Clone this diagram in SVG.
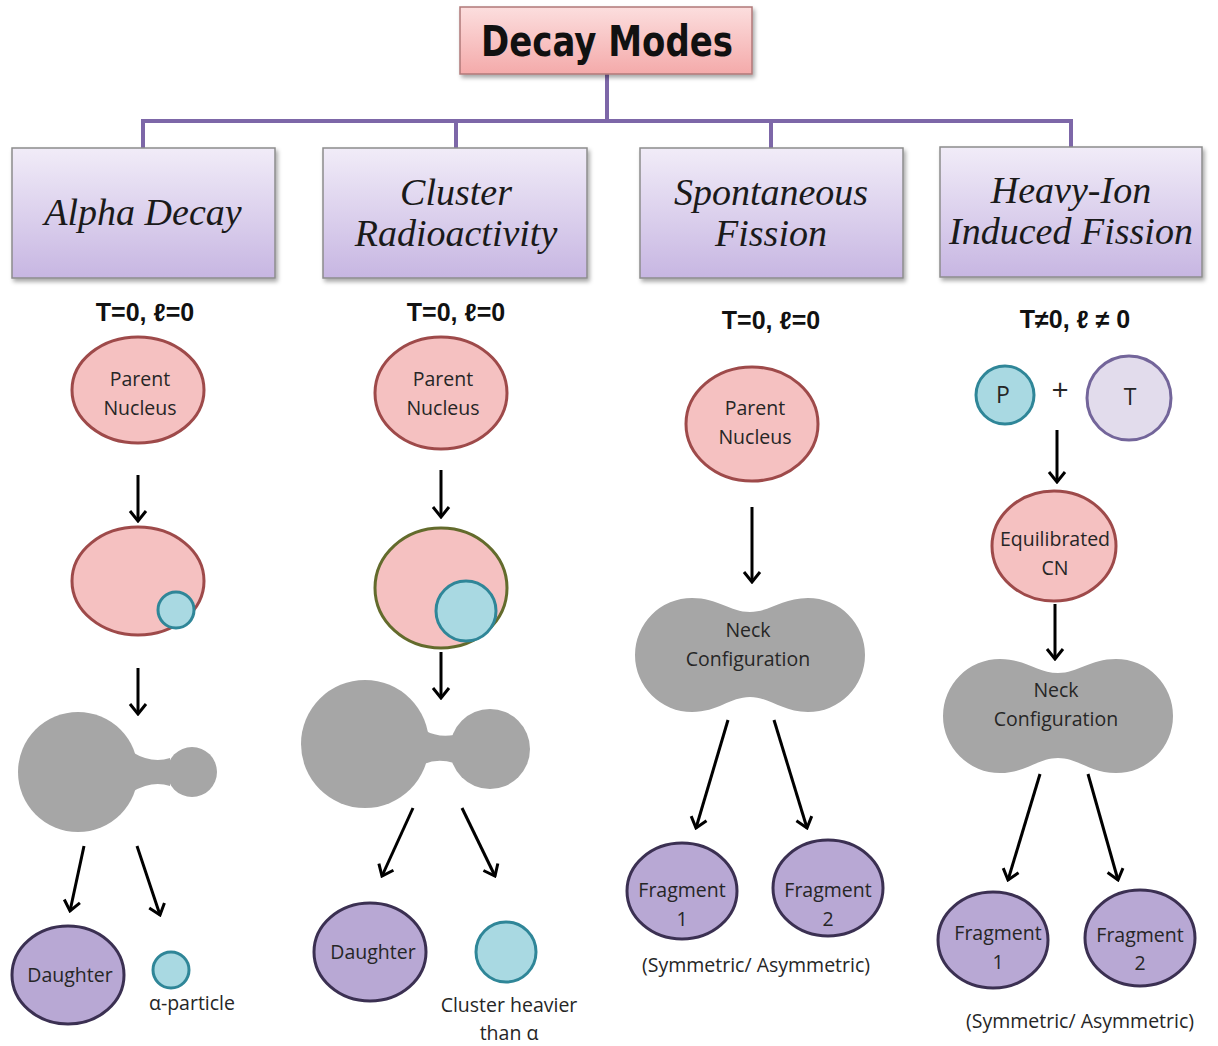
<svg xmlns="http://www.w3.org/2000/svg" width="1218" height="1046" viewBox="0 0 1218 1046">
<style>
.hdr{fill:url(#hg);stroke:#8c8c8c;stroke-width:1.5;filter:url(#sh)}
.ht{font-family:"Liberation Serif",serif;font-style:italic;font-size:38px;fill:#1a1a1a;text-anchor:middle}
.cond{font-family:"Liberation Sans",Arial,sans-serif;font-weight:bold;font-size:25px;fill:#111;text-anchor:middle}
.nt{font-family:"Open Sans","Liberation Sans",sans-serif;font-size:19.5px;fill:#262626;text-anchor:middle}
.big{font-size:23px}
.plus{font-size:30px}
.pink{fill:#f5c1c1;stroke:#9e4a4a;stroke-width:3}
.blue{fill:#a9d9e2;stroke:#2f8698;stroke-width:3}
.purp{fill:#b8a8d4;stroke:#3b3052;stroke-width:3}
.gray{fill:#a6a6a6}
.arr{stroke:#000;stroke-width:3;fill:none;marker-end:url(#ah)}
.tree{stroke:#7d67a8;stroke-width:4;fill:none}
</style>
<defs>
<linearGradient id="hg" x1="0" y1="0" x2="0" y2="1">
<stop offset="0" stop-color="#f1ecf8"/>
<stop offset="1" stop-color="#c7b6e2"/>
</linearGradient>
<linearGradient id="tg" x1="0" y1="0" x2="0" y2="1">
<stop offset="0" stop-color="#fcdede"/>
<stop offset="1" stop-color="#f4aaaa"/>
</linearGradient>
<filter id="sh" x="-10%" y="-10%" width="125%" height="130%">
<feDropShadow dx="2" dy="3" stdDeviation="2" flood-color="#000" flood-opacity="0.35"/>
</filter>
<marker id="ah" viewBox="-12 -10 14 20" refX="0" refY="0" markerWidth="14" markerHeight="20" markerUnits="userSpaceOnUse" orient="auto">
<path d="M-10,-8 L0,0 L-10,8" fill="none" stroke="#000" stroke-width="3"/>
</marker>
</defs>
<rect width="1218" height="1046" fill="#fff"/>

<g id="connectors">
<path class="tree" d="M607,74 V121 M143,121 H1071 M143,119 V149 M456,119 V149 M771,119 V149 M1071,119 V147"/>
<path class="arr" d="M138,475 V521"/>
<path class="arr" d="M138,668 V714"/>
<path class="arr" d="M84,846 L70,911"/>
<path class="arr" d="M137,846 L160,915"/>
<path class="arr" d="M441,470 V517"/>
<path class="arr" d="M441,652 V698"/>
<path class="arr" d="M413,808 L382,876"/>
<path class="arr" d="M462,808 L495,876"/>
<path class="arr" d="M752,507 V582"/>
<path class="arr" d="M728,720 L696,828"/>
<path class="arr" d="M774,720 L807,828"/>
<path class="arr" d="M1057,430 V482"/>
<path class="arr" d="M1055,604 V659"/>
<path class="arr" d="M1040,774 L1008,880"/>
<path class="arr" d="M1088,774 L1118,880"/>
</g>

<g id="title">
<rect x="460" y="7" width="292" height="67" fill="url(#tg)" stroke="#b07878" stroke-width="1.5" filter="url(#sh)"/>
<text x="607" y="56" font-family="'DejaVu Sans','Liberation Sans',sans-serif" font-weight="bold" font-size="42" fill="#111" text-anchor="middle" textLength="252" lengthAdjust="spacingAndGlyphs">Decay  Modes</text>
</g>

<g id="h-alpha">
<rect class="hdr" x="12" y="148" width="263" height="130"/>
<text class="ht" x="143" y="225">Alpha Decay</text>
</g>
<g id="h-cluster">
<rect class="hdr" x="323" y="148" width="264" height="130"/>
<text class="ht" x="456" y="205">Cluster</text>
<text class="ht" x="456" y="246">Radioactivity</text>
</g>
<g id="h-sf">
<rect class="hdr" x="640" y="148" width="263" height="130"/>
<text class="ht" x="771" y="205">Spontaneous</text>
<text class="ht" x="771" y="246">Fission</text>
</g>
<g id="h-hi">
<rect class="hdr" x="940" y="147" width="262" height="130"/>
<text class="ht" x="1071" y="203">Heavy-Ion</text>
<text class="ht" x="1071" y="244">Induced Fission</text>
</g>

<g id="cond-alpha"><text class="cond" x="145" y="321">T=0, ℓ=0</text></g>
<g id="cond-cluster"><text class="cond" x="456" y="321">T=0, ℓ=0</text></g>
<g id="cond-sf"><text class="cond" x="771" y="329">T=0, ℓ=0</text></g>
<g id="cond-hi"><text class="cond" x="1075" y="328">T≠0, ℓ ≠ 0</text></g>

<!-- Alpha column -->
<g id="a-parent">
<ellipse class="pink" cx="138" cy="390" rx="66" ry="53"/>
<text class="nt" x="140" y="386">Parent</text>
<text class="nt" x="140" y="415">Nucleus</text>
</g>
<g id="a-preformed">
<ellipse class="pink" cx="138" cy="581" rx="66" ry="54"/>
<circle class="blue" cx="176" cy="610" r="18"/>
</g>
<g id="a-neck">
<circle class="gray" cx="78" cy="772" r="60"/>
<circle class="gray" cx="192" cy="772" r="25"/>
<path class="gray" d="M132,752 Q152,764 170,758 L170,786 Q152,780 132,792 Z"/>
</g>
<g id="a-daughter">
<ellipse class="purp" cx="68" cy="975" rx="56" ry="49"/>
<text class="nt" x="70" y="982">Daughter</text>
</g>
<g id="a-alpha">
<circle class="blue" cx="171" cy="970" r="18"/>
<text class="nt" x="192" y="1010">α-particle</text>
</g>

<!-- Cluster column -->
<g id="c-parent">
<ellipse class="pink" cx="441" cy="393" rx="66" ry="56"/>
<text class="nt" x="443" y="386">Parent</text>
<text class="nt" x="443" y="415">Nucleus</text>
</g>
<g id="c-preformed">
<ellipse fill="#f5c1c1" stroke="#636b2c" stroke-width="3" cx="441" cy="588" rx="66" ry="60"/>
<circle class="blue" cx="466" cy="611" r="30"/>
</g>
<g id="c-neck">
<circle class="gray" cx="365" cy="744" r="64"/>
<circle class="gray" cx="490" cy="749" r="40"/>
<path class="gray" d="M424,730 Q438,738 454,735 L454,763 Q438,758 424,764 Z"/>
</g>
<g id="c-daughter">
<ellipse class="purp" cx="370" cy="952" rx="56" ry="49"/>
<text class="nt" x="373" y="959">Daughter</text>
</g>
<g id="c-cluster">
<circle class="blue" cx="506" cy="952" r="30"/>
<text class="nt" x="509" y="1012">Cluster heavier</text>
<text class="nt" x="509" y="1040">than α</text>
</g>

<!-- Spontaneous fission column -->
<g id="s-parent">
<ellipse class="pink" cx="752" cy="424" rx="66" ry="57"/>
<text class="nt" x="755" y="415">Parent</text>
<text class="nt" x="755" y="444">Nucleus</text>
</g>
<g id="s-neck">
<path class="gray" d="M692,598 C718,598 730,612 750,612 C770,612 782,598 808,598 A57,57 0 0 1 808,712 C782,712 770,697 750,697 C730,697 718,712 692,712 A57,57 0 0 1 692,598 Z"/>
<text class="nt" x="748" y="637">Neck</text>
<text class="nt" x="748" y="666">Configuration</text>
</g>
<g id="s-frag1">
<ellipse class="purp" cx="682" cy="891" rx="55" ry="48"/>
<text class="nt" x="682" y="897">Fragment</text>
<text class="nt" x="682" y="926">1</text>
</g>
<g id="s-frag2">
<ellipse class="purp" cx="828" cy="888" rx="55" ry="48"/>
<text class="nt" x="828" y="897">Fragment</text>
<text class="nt" x="828" y="926">2</text>
</g>
<g id="s-note"><text class="nt" x="756" y="972">(Symmetric/ Asymmetric)</text></g>

<!-- Heavy-ion column -->
<g id="h-p">
<circle class="blue" cx="1005" cy="395" r="29"/>
<text class="nt big" x="1003" y="403">P</text>
</g>
<g id="h-plus"><text class="nt plus" x="1060" y="400">+</text></g>
<g id="h-t">
<circle fill="#e2dcec" stroke="#73659a" stroke-width="3" cx="1129" cy="398" r="42"/>
<text class="nt big" x="1130" y="405">T</text>
</g>
<g id="h-cn">
<ellipse class="pink" cx="1054" cy="546" rx="62" ry="55"/>
<text class="nt" x="1055" y="546">Equilibrated</text>
<text class="nt" x="1055" y="575">CN</text>
</g>
<g id="h-neck">
<path class="gray" d="M1000,659 C1026,659 1038,673 1058,673 C1078,673 1090,659 1116,659 A57,57 0 0 1 1116,773 C1090,773 1078,758 1058,758 C1038,758 1026,773 1000,773 A57,57 0 0 1 1000,659 Z"/>
<text class="nt" x="1056" y="697">Neck</text>
<text class="nt" x="1056" y="726">Configuration</text>
</g>
<g id="h-frag1">
<ellipse class="purp" cx="993" cy="940" rx="55" ry="48"/>
<text class="nt" x="998" y="940">Fragment</text>
<text class="nt" x="998" y="969">1</text>
</g>
<g id="h-frag2">
<ellipse class="purp" cx="1140" cy="938" rx="55" ry="48"/>
<text class="nt" x="1140" y="942">Fragment</text>
<text class="nt" x="1140" y="970">2</text>
</g>
<g id="h-note"><text class="nt" x="1080" y="1028">(Symmetric/ Asymmetric)</text></g>
</svg>
